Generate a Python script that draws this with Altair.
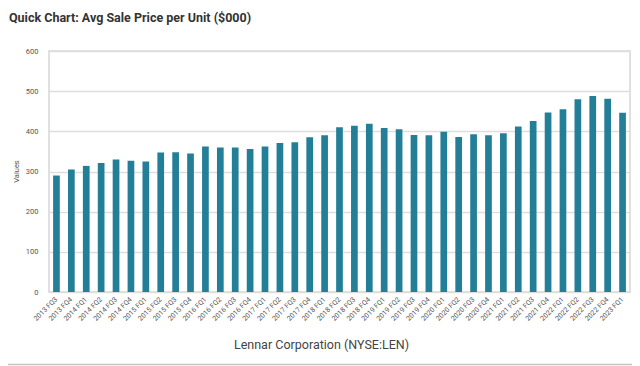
import altair as alt
import pandas as pd

quarters = [
    "2013 FQ3", "2013 FQ4",
    "2014 FQ1", "2014 FQ2", "2014 FQ3", "2014 FQ4",
    "2015 FQ1", "2015 FQ2", "2015 FQ3", "2015 FQ4",
    "2016 FQ1", "2016 FQ2", "2016 FQ3", "2016 FQ4",
    "2017 FQ1", "2017 FQ2", "2017 FQ3", "2017 FQ4",
    "2018 FQ1", "2018 FQ2", "2018 FQ3", "2018 FQ4",
    "2019 FQ1", "2019 FQ2", "2019 FQ3", "2019 FQ4",
    "2020 FQ1", "2020 FQ2", "2020 FQ3", "2020 FQ4",
    "2021 FQ1", "2021 FQ2", "2021 FQ3", "2021 FQ4",
    "2022 FQ1", "2022 FQ2", "2022 FQ3", "2022 FQ4",
    "2023 FQ1",
]
values = [
    290, 305,
    314, 321, 330, 327,
    325, 347, 348, 345,
    362, 360, 360, 356,
    362, 371, 373, 385,
    390, 410, 414, 419,
    408, 405, 391, 390,
    399, 386, 393, 390,
    395, 412, 426, 447,
    455, 480, 488, 481,
    446,
]
y_ticks = [0, 100, 200, 300, 400, 500, 600]
chart_title = ["Quick Chart: Avg Sale Price per Unit ($000)"]
x_title = "Lennar Corporation (NYSE:LEN)"
y_title = "Values"

df = pd.DataFrame({"quarter": quarters, "value": values})
title_df = pd.DataFrame({"t": chart_title})
one = pd.DataFrame({"k": [0]})

W, H = 581, 241
FONT = "Roboto"

bars = alt.Chart(df).mark_bar(color="#237f98").encode(
    x=alt.X(
        "quarter:N",
        sort=quarters,
        scale=alt.Scale(paddingInner=0.55, paddingOuter=0.275),
        axis=alt.Axis(
            title=x_title,
            labelAngle=-45,
            labelAlign="right",
            labelBaseline="middle",
            labelFontSize=7,
            labelColor="#555555",
            labelFont=FONT,
            labelPadding=6,
            labelOverlap=False,
            ticks=False,
            domain=False,
            titleFont=FONT,
            titleFontSize=12.5,
            titleFontWeight="normal",
            titleColor="#444444",
            titleX=272,
            titleY=52,
            titleAlign="center",
            titleBaseline="middle",
        ),
    ),
    y=alt.Y(
        "value:Q",
        scale=alt.Scale(domain=[0, 600], nice=False),
        axis=alt.Axis(
            title=y_title,
            values=y_ticks,
            grid=True,
            gridColor="#dedede",
            gridWidth=1.5,
            ticks=False,
            domain=False,
            labelFont=FONT,
            labelFontSize=7.5,
            labelColor="#555555",
            labelPadding=11,
            titleFont=FONT,
            titleFontSize=7.5,
            titleFontWeight="normal",
            titleColor="#555555",
            titleX=-33,
            titleY=120,
            titleAlign="center",
            titleBaseline="middle",
            titleAngle=270,
        ),
    ),
)

title = alt.Chart(title_df).mark_text(
    align="left",
    baseline="alphabetic",
    font=FONT,
    fontSize=12.5,
    fontWeight="bold",
    color="#333333",
).encode(x=alt.value(-40), y=alt.value(-29.5), text="t:N")

bottom_rule = alt.Chart(one).mark_rule(color="#c4c4c4", strokeWidth=1.5).encode(
    x=alt.value(-41), x2=alt.value(583), y=alt.value(313.5)
)

chart = alt.layer(bars, title, bottom_rule).properties(
    width=W,
    height=H,
    autosize=alt.AutoSizeParams(type="none"),
    padding={"left": 41, "top": 43, "right": 2, "bottom": 74},
).configure_view(stroke="#d6d6d6", strokeWidth=1.5)

chart.save("out.html", embed_options={"renderer": "svg", "actions": False})
